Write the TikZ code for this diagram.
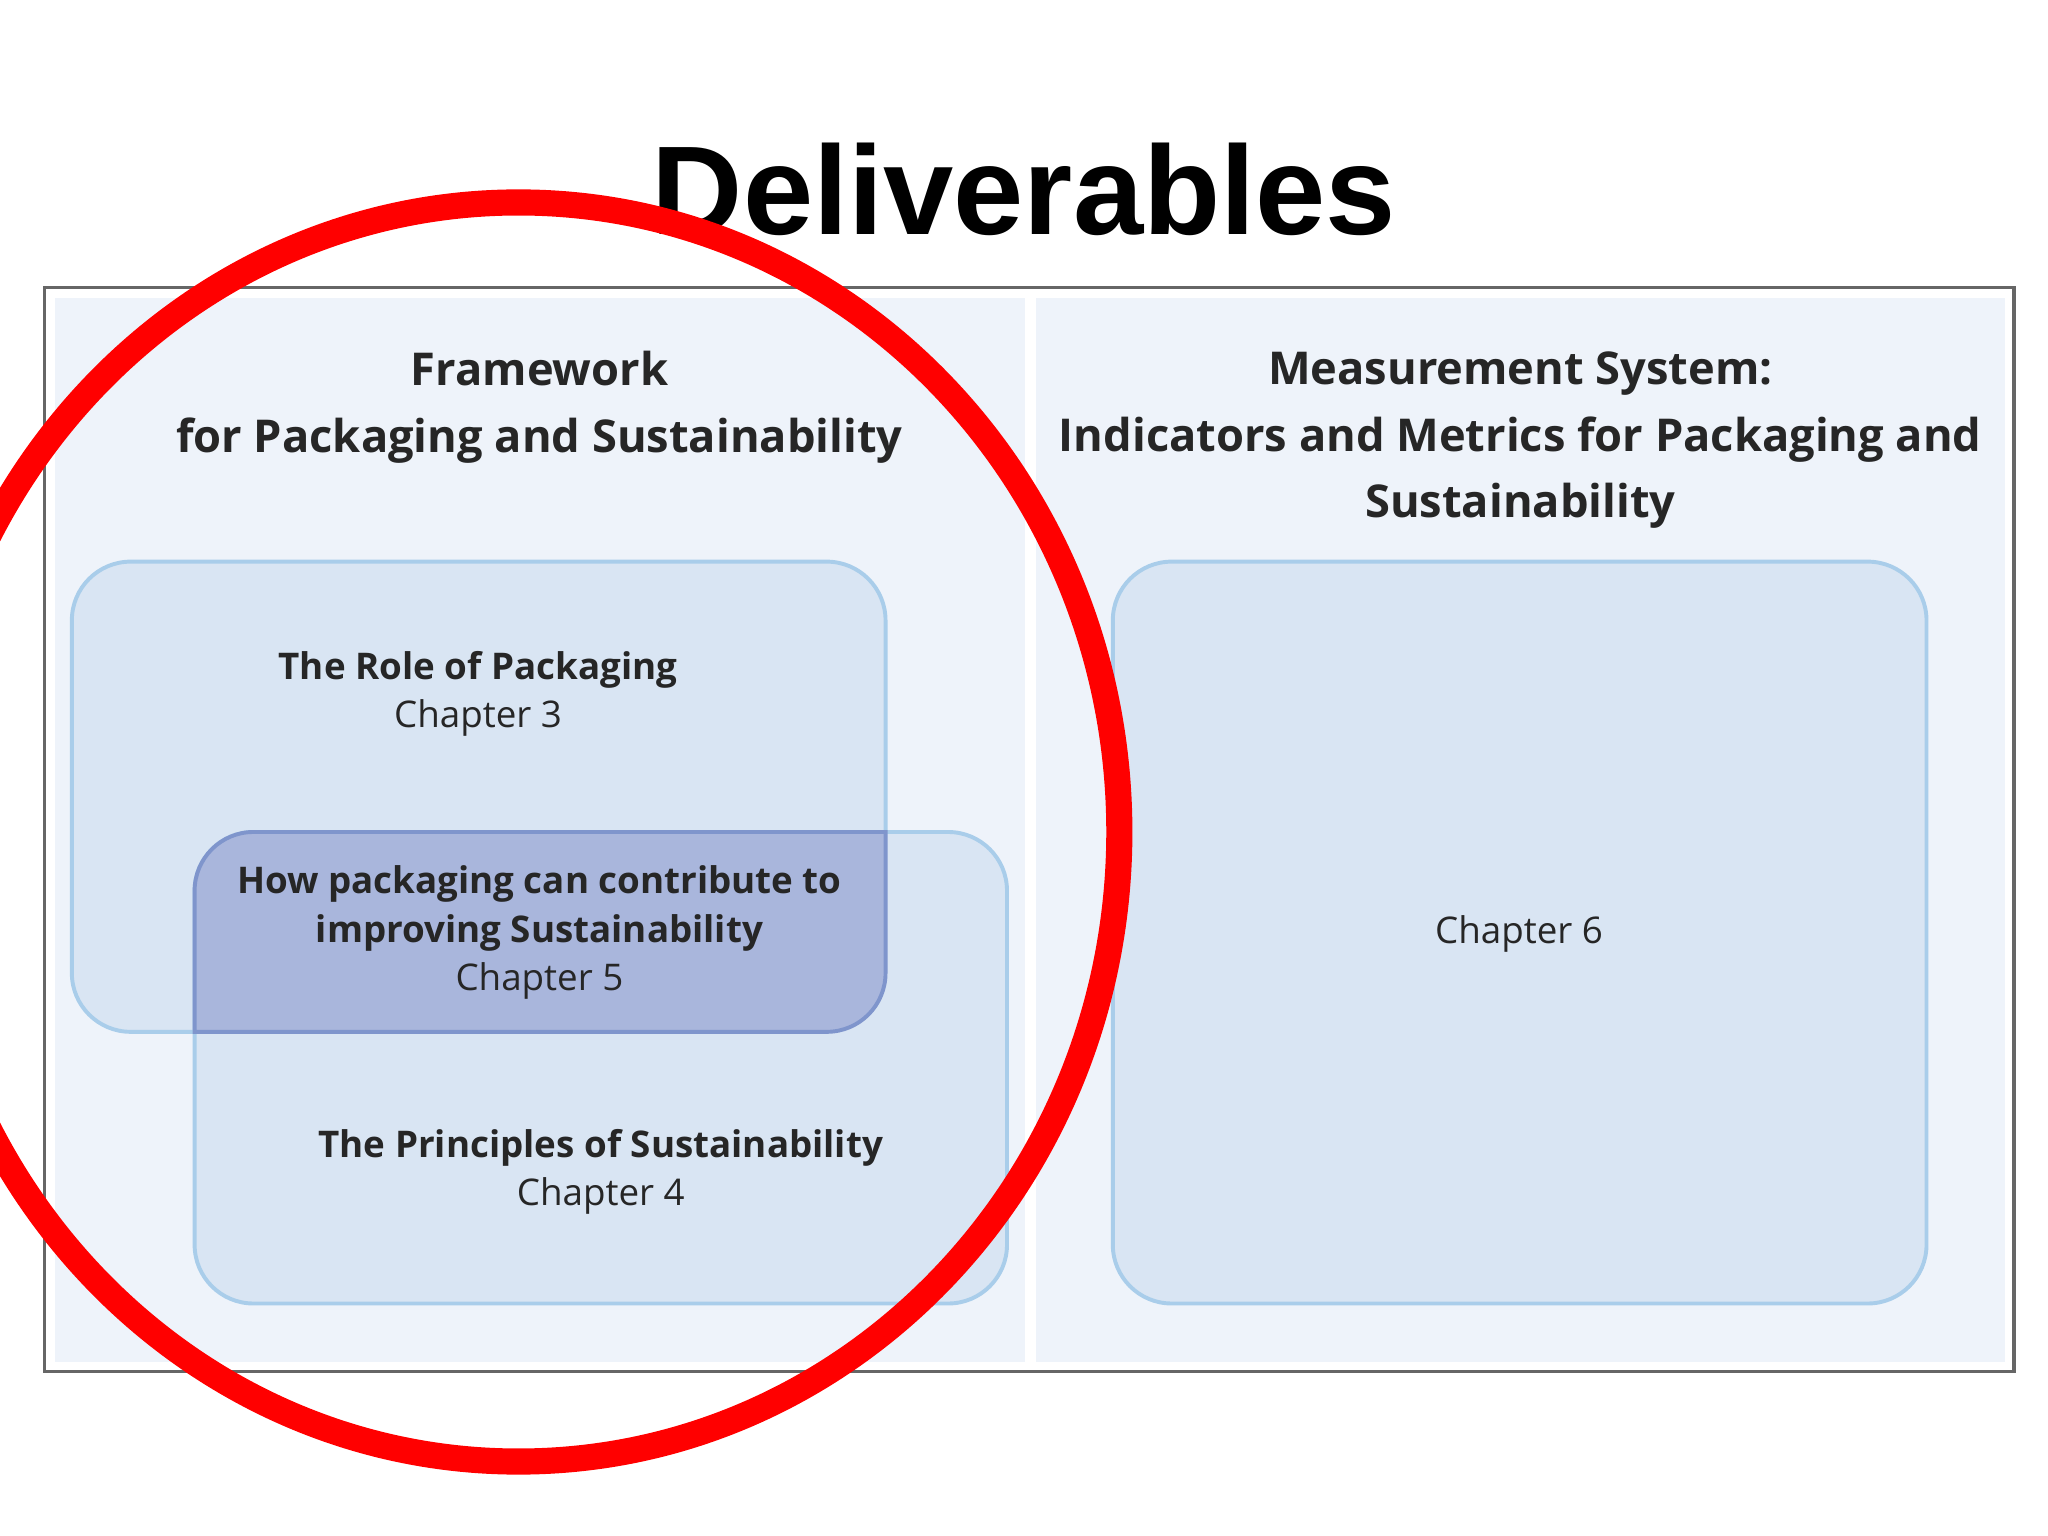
\documentclass[tikz,border=0pt]{standalone}
\usepackage{fontspec}
\setmainfont{Open Sans}
\newfontfamily\titlefont{Liberation Sans}
\definecolor{panel}{HTML}{EEF3FA}
\definecolor{boxf}{HTML}{D9E5F3}
\definecolor{boxd}{HTML}{A9CDEA}
\definecolor{ovf}{HTML}{A9B6DC}
\definecolor{ovd}{HTML}{7F95CC}
\begin{document}
\begin{tikzpicture}[x=0.01cm,y=-0.01cm,
 panelbox/.style={fill=panel,draw=none},
 chbox/.style={fill=boxf,draw=boxd,line width=0.03cm,rounded corners=0.45cm},
 head/.style={font=\fontsize{9.85}{14.5}\selectfont\bfseries,align=center,text=black!85},
 lbl/.style={font=\fontsize{8}{10.5}\selectfont,align=center,text=black!85}]
\useasboundingbox (0,0) rectangle (1568,1176);
\fill[white] (0,0) rectangle (1568,1176);
\node[font=\titlefont\fontsize{27.5}{32}\selectfont\bfseries] (title) at (784,145) {Deliverables};
\draw[gray!80!black,line width=0.025cm] (34,220) rectangle (1542,1050);
\fill[panelbox] (42,228) rectangle (785,1043);
\fill[panelbox] (793,228) rectangle (1535,1043);
\node[head] (lh) at (413,312) {Framework\\for Packaging and Sustainability};
\node[head] (rh) at (1164,337) {Measurement System:\\Indicators and Metrics for Packaging and\\Sustainability};
\draw[chbox] (55,430) rectangle (678,790);
\draw[chbox] (149,637) rectangle (771,998);
\begin{scope}
\clip (55,430) [rounded corners=0.45cm] rectangle (678,790);
\fill[ovf,rounded corners=0.45cm] (149,637) rectangle (771,998);
\end{scope}
\draw[ovd,line width=0.03cm] (149,790) -- (149,682) arc[start angle=180,end angle=270,radius=45] -- (678,637) -- (678,745) arc[start angle=0,end angle=90,radius=45] -- cycle;
\draw[chbox] (852,430) rectangle (1475,998);
\node[lbl] (c3) at (366,531) {\textbf{The Role of Packaging}\\Chapter 3};
\node[lbl] (c5) at (413,714) {\textbf{How packaging can contribute to}\\\textbf{improving Sustainability}\\Chapter 5};
\node[lbl] (c4) at (460,897) {\textbf{The Principles of Sustainability}\\Chapter 4};
\node[lbl] (c6) at (1163,715) {Chapter 6};
\draw[red,line width=0.2cm] (397,637) ellipse [x radius=460,y radius=482];
\end{tikzpicture}
\end{document}
